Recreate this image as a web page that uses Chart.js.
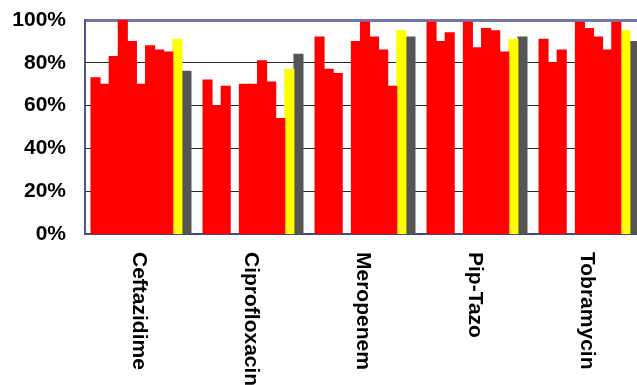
<!DOCTYPE html>
<html>
<head>
<meta charset="utf-8">
<script src="https://cdn.jsdelivr.net/npm/chart.js@4"></script>
<style>
  html, body { margin: 0; padding: 0; background: #fff; overflow: hidden; }
  #wrap { position: relative; width: 660px; height: 385px; }
</style>
</head>
<body>
<div id="wrap"><canvas id="chart" width="660" height="385"></canvas></div>
<script>
// Antibiotic susceptibility (%) per drug
const categories = ['Ceftazidime', 'Ciprofloxacin', 'Meropenem', 'Pip-Tazo', 'Tobramycin'];

// nine red series, one slot per drug (null = no bar)
const series1 = [73, 72, 92, 99, 91];
const series2 = [70, 60, 77, 90, 80];
const series3 = [83, 69, 75, 94, 86];
const series4 = [100, null, null, null, null];
const series5 = [90, 70, 90, 99, 99];
const series6 = [70, 70, 99, 87, 96];
const series7 = [88, 81, 92, 96, 92];
const series8 = [86, 71, 86, 95, 86];
const series9 = [85, 54, 69, 85, 99];
// highlighted series and overall series
const seriesYellow = [91, 77, 95, 91, 95];
const seriesGray = [76, 84, 92, 92, 90];

const yTicks = [0, 20, 40, 60, 80, 100];

const RED = '#FF0000', YELLOW = '#FFFF00', GRAY = '#555555';

const redSeries = [series1, series2, series3, series4, series5, series6, series7, series8, series9];
const datasets = redSeries.map((d, i) => ({ label: 'Series ' + (i + 1), data: d, backgroundColor: RED }));
datasets.push({ label: 'Yellow', data: seriesYellow, backgroundColor: YELLOW });
datasets.push({ label: 'Gray', data: seriesGray, backgroundColor: GRAY });
datasets.forEach(ds => {
  ds.borderWidth = 0;
  ds.barPercentage = 1.0;
  ds.categoryPercentage = 0.893;
  ds.inflateAmount = 0.5;
});

const LABEL_FONT = "bold 21px Arial, 'Liberation Sans', sans-serif";

// vertical category labels reading top-to-bottom
const verticalLabels = {
  id: 'verticalLabels',
  afterDraw(chart) {
    const { ctx, scales } = chart;
    const xs = scales.x;
    const top = chart.chartArea.bottom + 18;
    ctx.save();
    ctx.font = LABEL_FONT;
    ctx.fillStyle = '#000';
    ctx.textAlign = 'left';
    ctx.textBaseline = 'alphabetic';
    categories.forEach((c, i) => {
      const x = xs.getPixelForValue(i);
      ctx.save();
      ctx.translate(x - 8.5, top);
      ctx.rotate(Math.PI / 2);
      ctx.fillText(c, 0, 0);
      ctx.restore();
    });
    ctx.restore();
  }
};

new Chart(document.getElementById('chart'), {
  type: 'bar',
  data: { labels: categories, datasets },
  options: {
    responsive: false,
    animation: false,
    devicePixelRatio: 1,
    layout: { padding: { top: 20, right: 15, left: 0, bottom: 0 } },
    plugins: { legend: { display: false }, tooltip: { enabled: false } },
    scales: {
      x: {
        ticks: { display: false },
        grid: { display: false, drawTicks: false },
        border: { display: true, color: '#4a4a78', width: 2 },
        afterFit(scale) { scale.height = 385 - 234; scale.paddingLeft = 0; scale.paddingRight = 0; }
      },
      y: {
        min: 0,
        max: 100,
        afterBuildTicks(scale) { scale.ticks = yTicks.map(v => ({ value: v })); },
        ticks: {
          padding: 19,
          color: '#000',
          font: { family: "Arial, 'Liberation Sans', sans-serif", size: 21, weight: 'bold' },
          callback: v => v + '%'
        },
        grid: {
          drawTicks: false,
          color: c => c.tick && c.tick.value === 100 ? '#7676a6' : (c.tick && c.tick.value === 0 ? 'rgba(0,0,0,0)' : '#2a2a2a'),
          lineWidth: c => c.tick && c.tick.value === 100 ? 3 : 1
        },
        border: { display: true, color: '#55558a', width: 2 },
        afterFit(scale) { scale.width = 85; scale.paddingTop = 0; scale.paddingBottom = 0; }
      }
    }
  },
  plugins: [verticalLabels]
});
</script>
</body>
</html>
